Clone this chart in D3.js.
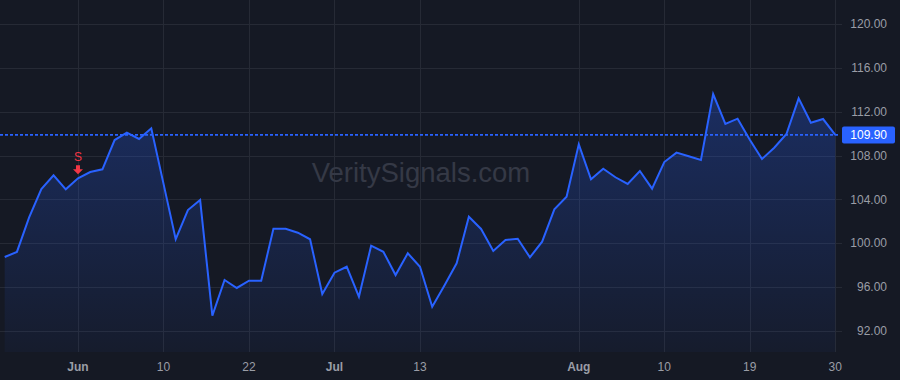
<!DOCTYPE html>
<html>
<head>
<meta charset="utf-8">
<script src="https://cdn.jsdelivr.net/npm/d3@7"></script>
<style>
  html, body { margin: 0; padding: 0; background: #151924; }
  svg { display: block; }
  text { font-family: "Liberation Sans", Arial, sans-serif; }
</style>
</head>
<body>
<svg id="chart" width="900" height="380"></svg>
<script>
// ---- data ----
const values = [
  98.75, 99.21, 102.37, 104.96, 106.21, 104.93, 105.94, 106.51, 106.76, 109.43,
  110.10, 109.53, 110.50, 105.45, 100.37, 103.04, 103.95, 93.39, 96.65, 95.92,
  96.58, 96.58, 101.33, 101.33, 100.97, 100.37, 95.37, 97.32, 97.86, 95.12,
  99.78, 99.23, 97.10, 99.09, 97.86, 94.21, 96.15, 98.17, 102.43, 101.31,
  99.30, 100.30, 100.42, 98.72, 100.15, 103.10, 104.26, 109.04, 105.84, 106.81,
  106.03, 105.42, 106.60, 104.99, 107.42, 108.28, 107.95, 107.61, 113.63, 110.90,
  111.38, 109.46, 107.70, 108.73, 109.98, 113.24, 111.01, 111.35, 109.90
];
const sessions = values.map((_, i) => i);
const xTickIndex = [6, 13, 20, 27, 34, 47, 54, 61, 68];
const xTickLabels = ["Jun", "10", "22", "Jul", "13", "Aug", "10", "19", "30"];
const xTickBold = [true, false, false, true, false, true, false, false, false];
const yTicks = [92, 96, 100, 104, 108, 112, 116, 120];
const lastPrice = 109.90;
const signalIndex = 6;
const signalLabel = "S";
const watermark = "VeritySignals.com";

// ---- layout ----
const W = 900, H = 380;
const plotRight = 836, plotBottom = 352;
const svg = d3.select("#chart");

const x = d3.scaleLinear().domain([0, sessions.length - 1]).range([4.7, 835.3]);
const y = d3.scaleLinear().domain([92, 120]).range([330.9, 24.3]);

svg.append("rect").attr("width", W).attr("height", H).attr("fill", "#151924");

// grid
const grid = svg.append("g");
grid.selectAll("line.h").data(yTicks).enter().append("line")
  .attr("x1", 0).attr("x2", 842)
  .attr("y1", d => Math.round(y(d)) + 0.5).attr("y2", d => Math.round(y(d)) + 0.5)
  .attr("stroke", "#262a35").attr("stroke-width", 1);
grid.selectAll("line.v").data(xTickIndex).enter().append("line")
  .attr("y1", 0).attr("y2", plotBottom)
  .attr("x1", d => Math.round(x(d)) + 0.5).attr("x2", d => Math.round(x(d)) + 0.5)
  .attr("stroke", "#262a35").attr("stroke-width", 1);

// watermark
svg.append("text")
  .attr("x", 421).attr("y", 182)
  .attr("text-anchor", "middle")
  .attr("font-size", 27.5)
  .attr("fill", "#353946")
  .text(watermark);

// area gradient
const defs = svg.append("defs");
const grad = defs.append("linearGradient").attr("id", "areaGrad")
  .attr("gradientUnits", "userSpaceOnUse")
  .attr("x1", 0).attr("x2", 0).attr("y1", y(d3.max(values))).attr("y2", plotBottom);
grad.append("stop").attr("offset", "0%").attr("stop-color", "#2962ff").attr("stop-opacity", 0.28);
grad.append("stop").attr("offset", "100%").attr("stop-color", "#2962ff").attr("stop-opacity", 0.04);

const area = d3.area()
  .x((d, i) => x(i))
  .y0(plotBottom)
  .y1(d => y(d));
svg.append("path").datum(values)
  .attr("d", area)
  .attr("fill", "url(#areaGrad)");

// last price dotted line
svg.append("line")
  .attr("x1", 0).attr("x2", plotRight + 4)
  .attr("y1", y(lastPrice)).attr("y2", y(lastPrice))
  .attr("stroke", "#2962ff").attr("stroke-width", 1.6)
  .attr("stroke-dasharray", "3,2");

// line
const line = d3.line().x((d, i) => x(i)).y(d => y(d));
svg.append("path").datum(values)
  .attr("d", line)
  .attr("fill", "none")
  .attr("stroke", "#2962ff")
  .attr("stroke-width", 2)
  .attr("stroke-linejoin", "miter");

// signal marker
const sx = x(signalIndex), sy = y(values[signalIndex]);
svg.append("text")
  .attr("x", sx).attr("y", sy - 17)
  .attr("text-anchor", "middle")
  .attr("font-size", 12)
  .attr("fill", "#f23645")
  .text(signalLabel);
svg.append("path")
  .attr("d", `M${sx - 2},${sy - 13} h4 v4 h3 l-5,5 l-5,-5 h3 z`)
  .attr("fill", "#f23645");

// y axis labels
svg.append("g").selectAll("text").data(yTicks).enter().append("text")
  .attr("x", 887).attr("y", d => y(d) + 4)
  .attr("text-anchor", "end")
  .attr("font-size", 12)
  .attr("fill", "#9a9da6")
  .text(d => d3.format(".2f")(d));

// last price label
const ly = y(lastPrice);
svg.append("rect")
  .attr("x", 842).attr("y", ly - 8.5).attr("width", 53).attr("height", 17)
  .attr("rx", 2).attr("fill", "#2962ff");
svg.append("text")
  .attr("x", 887).attr("y", ly + 4.5)
  .attr("text-anchor", "end")
  .attr("font-size", 12)
  .attr("fill", "#ffffff")
  .text(d3.format(".2f")(lastPrice));

// x axis labels
svg.append("g").selectAll("text").data(xTickIndex).enter().append("text")
  .attr("x", d => x(d)).attr("y", 371)
  .attr("text-anchor", "middle")
  .attr("font-size", 12)
  .attr("font-weight", (d, i) => xTickBold[i] ? "bold" : "normal")
  .attr("fill", "#9a9da6")
  .text((d, i) => xTickLabels[i]);
</script>
</body>
</html>
